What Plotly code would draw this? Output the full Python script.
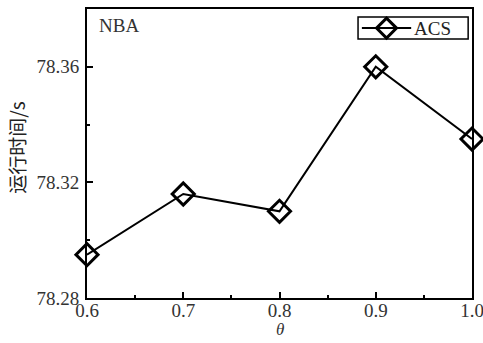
import plotly.graph_objects as go

# ACS running time on the NBA dataset for different theta values
theta = [0.6, 0.7, 0.8, 0.9, 1.0]
run_time = [78.295, 78.316, 78.310, 78.360, 78.335]
x_ticks = [0.6, 0.7, 0.8, 0.9, 1.0]
x_tick_text = ["0.6", "0.7", "0.8", "0.9", "1.0"]
y_ticks = [78.28, 78.32, 78.36]
y_tick_text = ["78.28", "78.32", "78.36"]
series_name = "ACS"

serif = "Liberation Serif"
cjk = "Noto Sans CJK SC"

fig = go.Figure()
fig.add_trace(go.Scatter(
    x=theta, y=run_time, mode="lines+markers", name=series_name,
    line=dict(color="black", width=2),
    marker=dict(symbol="diamond-open", size=17, color="black",
                line=dict(width=3, color="black")),
    cliponaxis=False, showlegend=False,
))

axis_common = dict(
    showline=True, linecolor="black", linewidth=2, mirror=True,
    ticks="inside", ticklen=6, tickwidth=2, tickcolor="black",
    showgrid=False, zeroline=False, automargin=False,
    tickfont=dict(family=serif, size=19, color="#333"),
    ticklabeloverflow="allow",
)

fig.update_layout(
    width=483, height=343,
    margin=dict(l=87, r=11, t=9, b=45, autoexpand=False),
    plot_bgcolor="white", paper_bgcolor="white",
    showlegend=False,
    xaxis=dict(
        range=[0.6, 1.0], tickvals=x_ticks, ticktext=x_tick_text,
        minor=dict(ticks="inside", ticklen=3, tickwidth=2, tickcolor="black",
                   dtick=0.05, tick0=0.6),
        ticklabelstandoff=-6,
        **axis_common,
    ),
    yaxis=dict(
        range=[78.28, 78.38], tickvals=y_ticks, ticktext=y_tick_text,
        minor=dict(ticks="inside", ticklen=3, tickwidth=2, tickcolor="black",
                   dtick=0.02, tick0=78.28),
        ticklabelstandoff=2,
        **axis_common,
    ),
)

# compact legend box: frame, line sample, open diamond and series name
leg_y = 0.934
fig.add_shape(type="rect", xref="paper", yref="paper",
              x0=0.704, x1=0.990, y0=0.896, y1=0.972,
              line=dict(color="black", width=1.5), fillcolor="white")
fig.add_shape(type="line", xref="paper", yref="paper",
              x0=0.714, x1=0.842, y0=leg_y, y1=leg_y,
              line=dict(color="black", width=2))
fig.add_shape(type="path", xref="paper", yref="paper",
              xsizemode="pixel", ysizemode="pixel",
              xanchor=0.778, yanchor=leg_y,
              path="M -10,0 L 0,10 L 10,0 L 0,-10 Z",
              line=dict(color="black", width=3))
fig.add_annotation(
    text=series_name, xref="paper", yref="paper", x=0.844, y=leg_y,
    xanchor="left", yanchor="middle", showarrow=False,
    font=dict(family=serif, size=19, color="#222"),
)

# axis titles placed as annotations
fig.add_annotation(
    text="<i>θ</i>", xref="paper", yref="paper", x=0.5, y=-0.108,
    xanchor="center", yanchor="middle", showarrow=False,
    font=dict(family=serif, size=17, color="#333"),
)
fig.add_annotation(
    text="运行时间/s", xref="paper", yref="paper", x=-0.182, y=0.52,
    xanchor="center", yanchor="middle", textangle=-90, showarrow=False,
    font=dict(family=cjk, size=19, color="#222"),
)

fig.add_annotation(
    text="NBA", xref="paper", yref="paper", x=0.025, y=0.985,
    xanchor="left", yanchor="top", showarrow=False,
    font=dict(family=serif, size=19, color="#333"),
)

fig.write_html("out.html")
